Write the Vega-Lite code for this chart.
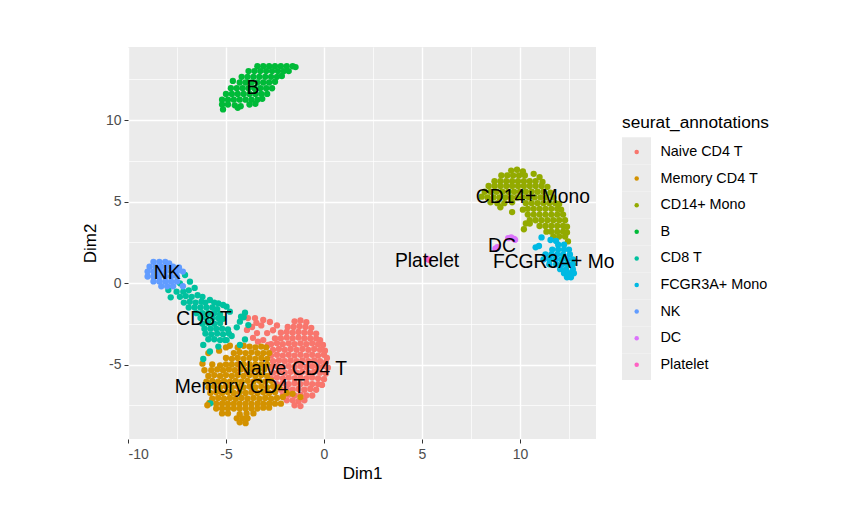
{"$schema":"https://vega.github.io/schema/vega-lite/v6.json","width":468,"height":392,"autosize":{"type":"none"},"padding":{"left":128,"top":47,"right":265,"bottom":83},"background":"white","view":{"fill":"#EBEBEB","stroke":null},"config":{"font":"Liberation Sans"},
"datasets":{"types":[{"c":"Naive CD4 T"},{"c":"Memory CD4 T"},{"c":"CD14+ Mono"},{"c":"B"},{"c":"CD8 T"},{"c":"FCGR3A+ Mono"},{"c":"NK"},{"c":"DC"},{"c":"Platelet"}],
"labels":[{"x":-3.62,"y":11.96,"t":"B"},{"x":-8.0,"y":0.6,"t":"NK"},{"x":-6.12,"y":-2.2,"t":"CD8 T"},{"x":-1.63,"y":-5.28,"t":"Naive CD4 T"},{"x":-4.29,"y":-6.38,"t":"Memory CD4 T"},{"x":10.66,"y":5.28,"t":"CD14+ Mono"},{"x":9.08,"y":2.27,"t":"DC"},{"x":12.27,"y":1.29,"t":"FCGR3A+ Mono"},{"x":5.26,"y":1.35,"t":"Platelet"}],
"cells":[
{"x":-1.5,"y":-2.35,"c":"Naive CD4 T"},{"x":-1.2,"y":-2.3,"c":"Naive CD4 T"},{"x":-0.9,"y":-2.4,"c":"Naive CD4 T"},
{"x":-1.85,"y":-2.7,"c":"Naive CD4 T"},{"x":-1.55,"y":-2.7,"c":"Naive CD4 T"},{"x":-1.25,"y":-2.65,"c":"Naive CD4 T"},{"x":-0.95,"y":-2.7,"c":"Naive CD4 T"},{"x":-0.65,"y":-2.75,"c":"Naive CD4 T"},
{"x":-2.2,"y":-3.05,"c":"Naive CD4 T"},{"x":-1.9,"y":-3.0,"c":"Naive CD4 T"},{"x":-1.6,"y":-3.05,"c":"Naive CD4 T"},{"x":-1.3,"y":-3.0,"c":"Naive CD4 T"},{"x":-1.0,"y":-3.05,"c":"Naive CD4 T"},{"x":-0.7,"y":-3.05,"c":"Naive CD4 T"},{"x":-0.4,"y":-3.1,"c":"Naive CD4 T"},
{"x":-2.5,"y":-3.4,"c":"Naive CD4 T"},{"x":-2.2,"y":-3.4,"c":"Naive CD4 T"},{"x":-1.9,"y":-3.35,"c":"Naive CD4 T"},{"x":-1.6,"y":-3.4,"c":"Naive CD4 T"},{"x":-1.3,"y":-3.35,"c":"Naive CD4 T"},{"x":-1.0,"y":-3.4,"c":"Naive CD4 T"},{"x":-0.7,"y":-3.4,"c":"Naive CD4 T"},{"x":-0.4,"y":-3.4,"c":"Naive CD4 T"},{"x":-0.2,"y":-3.5,"c":"Naive CD4 T"},
{"x":-2.7,"y":-3.75,"c":"Naive CD4 T"},{"x":-2.4,"y":-3.7,"c":"Naive CD4 T"},{"x":-2.1,"y":-3.75,"c":"Naive CD4 T"},{"x":-1.8,"y":-3.7,"c":"Naive CD4 T"},{"x":-1.5,"y":-3.75,"c":"Naive CD4 T"},{"x":-1.2,"y":-3.7,"c":"Naive CD4 T"},{"x":-0.9,"y":-3.75,"c":"Naive CD4 T"},{"x":-0.6,"y":-3.7,"c":"Naive CD4 T"},{"x":-0.3,"y":-3.75,"c":"Naive CD4 T"},{"x":-0.05,"y":-3.8,"c":"Naive CD4 T"},
{"x":-2.6,"y":-4.1,"c":"Naive CD4 T"},{"x":-2.3,"y":-4.05,"c":"Naive CD4 T"},{"x":-2.0,"y":-4.1,"c":"Naive CD4 T"},{"x":-1.7,"y":-4.05,"c":"Naive CD4 T"},{"x":-1.4,"y":-4.1,"c":"Naive CD4 T"},{"x":-1.1,"y":-4.05,"c":"Naive CD4 T"},{"x":-0.8,"y":-4.1,"c":"Naive CD4 T"},{"x":-0.5,"y":-4.05,"c":"Naive CD4 T"},{"x":-0.2,"y":-4.1,"c":"Naive CD4 T"},{"x":0.05,"y":-4.15,"c":"Naive CD4 T"},
{"x":-2.7,"y":-4.45,"c":"Naive CD4 T"},{"x":-2.4,"y":-4.4,"c":"Naive CD4 T"},{"x":-2.1,"y":-4.45,"c":"Naive CD4 T"},{"x":-1.8,"y":-4.4,"c":"Naive CD4 T"},{"x":-1.5,"y":-4.45,"c":"Naive CD4 T"},{"x":-1.2,"y":-4.4,"c":"Naive CD4 T"},{"x":-0.9,"y":-4.45,"c":"Naive CD4 T"},{"x":-0.6,"y":-4.4,"c":"Naive CD4 T"},{"x":-0.3,"y":-4.45,"c":"Naive CD4 T"},{"x":0.0,"y":-4.4,"c":"Naive CD4 T"},{"x":0.15,"y":-4.6,"c":"Naive CD4 T"},
{"x":-2.6,"y":-4.8,"c":"Naive CD4 T"},{"x":-2.3,"y":-4.75,"c":"Naive CD4 T"},{"x":-2.0,"y":-4.8,"c":"Naive CD4 T"},{"x":-1.7,"y":-4.75,"c":"Naive CD4 T"},{"x":-1.4,"y":-4.8,"c":"Naive CD4 T"},{"x":-1.1,"y":-4.75,"c":"Naive CD4 T"},{"x":-0.8,"y":-4.8,"c":"Naive CD4 T"},{"x":-0.5,"y":-4.75,"c":"Naive CD4 T"},{"x":-0.2,"y":-4.8,"c":"Naive CD4 T"},{"x":0.1,"y":-4.85,"c":"Naive CD4 T"},
{"x":-2.7,"y":-5.15,"c":"Naive CD4 T"},{"x":-2.4,"y":-5.1,"c":"Naive CD4 T"},{"x":-2.1,"y":-5.15,"c":"Naive CD4 T"},{"x":-1.8,"y":-5.1,"c":"Naive CD4 T"},{"x":-1.5,"y":-5.15,"c":"Naive CD4 T"},{"x":-1.2,"y":-5.1,"c":"Naive CD4 T"},{"x":-0.9,"y":-5.15,"c":"Naive CD4 T"},{"x":-0.6,"y":-5.1,"c":"Naive CD4 T"},{"x":-0.3,"y":-5.15,"c":"Naive CD4 T"},{"x":0.0,"y":-5.1,"c":"Naive CD4 T"},{"x":0.2,"y":-5.2,"c":"Naive CD4 T"},
{"x":-2.6,"y":-5.5,"c":"Naive CD4 T"},{"x":-2.3,"y":-5.45,"c":"Naive CD4 T"},{"x":-2.0,"y":-5.5,"c":"Naive CD4 T"},{"x":-1.7,"y":-5.45,"c":"Naive CD4 T"},{"x":-1.4,"y":-5.5,"c":"Naive CD4 T"},{"x":-1.1,"y":-5.45,"c":"Naive CD4 T"},{"x":-0.8,"y":-5.5,"c":"Naive CD4 T"},{"x":-0.5,"y":-5.45,"c":"Naive CD4 T"},{"x":-0.2,"y":-5.5,"c":"Naive CD4 T"},{"x":0.1,"y":-5.55,"c":"Naive CD4 T"},
{"x":-2.7,"y":-5.85,"c":"Naive CD4 T"},{"x":-2.4,"y":-5.8,"c":"Naive CD4 T"},{"x":-2.1,"y":-5.85,"c":"Naive CD4 T"},{"x":-1.8,"y":-5.8,"c":"Naive CD4 T"},{"x":-1.5,"y":-5.85,"c":"Naive CD4 T"},{"x":-1.2,"y":-5.8,"c":"Naive CD4 T"},{"x":-0.9,"y":-5.85,"c":"Naive CD4 T"},{"x":-0.6,"y":-5.8,"c":"Naive CD4 T"},{"x":-0.3,"y":-5.85,"c":"Naive CD4 T"},{"x":0.0,"y":-5.9,"c":"Naive CD4 T"},
{"x":-2.4,"y":-6.2,"c":"Naive CD4 T"},{"x":-2.1,"y":-6.15,"c":"Naive CD4 T"},{"x":-1.8,"y":-6.2,"c":"Naive CD4 T"},{"x":-1.5,"y":-6.15,"c":"Naive CD4 T"},{"x":-1.2,"y":-6.2,"c":"Naive CD4 T"},{"x":-0.9,"y":-6.15,"c":"Naive CD4 T"},{"x":-0.6,"y":-6.2,"c":"Naive CD4 T"},{"x":-0.3,"y":-6.2,"c":"Naive CD4 T"},{"x":-0.1,"y":-6.25,"c":"Naive CD4 T"},
{"x":-2.2,"y":-6.55,"c":"Naive CD4 T"},{"x":-1.9,"y":-6.5,"c":"Naive CD4 T"},{"x":-1.6,"y":-6.55,"c":"Naive CD4 T"},{"x":-1.3,"y":-6.5,"c":"Naive CD4 T"},{"x":-1.0,"y":-6.55,"c":"Naive CD4 T"},{"x":-0.7,"y":-6.5,"c":"Naive CD4 T"},{"x":-0.4,"y":-6.55,"c":"Naive CD4 T"},
{"x":-2.1,"y":-6.9,"c":"Naive CD4 T"},{"x":-1.8,"y":-6.85,"c":"Naive CD4 T"},{"x":-1.5,"y":-6.9,"c":"Naive CD4 T"},{"x":-1.2,"y":-6.85,"c":"Naive CD4 T"},{"x":-0.9,"y":-6.9,"c":"Naive CD4 T"},{"x":-0.6,"y":-6.9,"c":"Naive CD4 T"},
{"x":-1.9,"y":-7.2,"c":"Naive CD4 T"},{"x":-1.6,"y":-7.2,"c":"Naive CD4 T"},{"x":-1.3,"y":-7.25,"c":"Naive CD4 T"},{"x":-1.0,"y":-7.2,"c":"Naive CD4 T"},{"x":-1.5,"y":-7.5,"c":"Naive CD4 T"},{"x":-1.2,"y":-7.55,"c":"Naive CD4 T"},
{"x":-3.88,"y":-2.15,"c":"Naive CD4 T"},{"x":-3.52,"y":-2.15,"c":"Naive CD4 T"},{"x":-3.1,"y":-2.27,"c":"Naive CD4 T"},{"x":-2.76,"y":-2.39,"c":"Naive CD4 T"},{"x":-3.67,"y":-2.7,"c":"Naive CD4 T"},{"x":-3.93,"y":-2.88,"c":"Naive CD4 T"},{"x":-3.42,"y":-3.07,"c":"Naive CD4 T"},{"x":-3.62,"y":-3.37,"c":"Naive CD4 T"},{"x":-3.37,"y":-3.6,"c":"Naive CD4 T"},{"x":-3.1,"y":-3.5,"c":"Naive CD4 T"},{"x":-2.85,"y":-3.8,"c":"Naive CD4 T"},{"x":-2.9,"y":-3.07,"c":"Naive CD4 T"},{"x":-2.6,"y":-2.9,"c":"Naive CD4 T"},{"x":-3.2,"y":-2.6,"c":"Naive CD4 T"},{"x":-2.4,"y":-2.6,"c":"Naive CD4 T"},{"x":-3.45,"y":-2.45,"c":"Naive CD4 T"},
{"x":-4.4,"y":-3.95,"c":"Memory CD4 T"},{"x":-4.1,"y":-3.85,"c":"Memory CD4 T"},{"x":-3.8,"y":-3.9,"c":"Memory CD4 T"},{"x":-3.5,"y":-3.95,"c":"Memory CD4 T"},{"x":-3.2,"y":-3.9,"c":"Memory CD4 T"},{"x":-2.95,"y":-3.95,"c":"Memory CD4 T"},
{"x":-5.0,"y":-3.95,"c":"Memory CD4 T"},{"x":-4.8,"y":-3.85,"c":"Memory CD4 T"},{"x":-5.35,"y":-4.15,"c":"Memory CD4 T"},{"x":-5.9,"y":-4.3,"c":"Memory CD4 T"},{"x":-4.6,"y":-4.3,"c":"Memory CD4 T"},{"x":-4.3,"y":-4.25,"c":"Memory CD4 T"},{"x":-4.0,"y":-4.3,"c":"Memory CD4 T"},{"x":-3.7,"y":-4.25,"c":"Memory CD4 T"},{"x":-3.4,"y":-4.3,"c":"Memory CD4 T"},{"x":-3.1,"y":-4.3,"c":"Memory CD4 T"},{"x":-2.8,"y":-4.3,"c":"Memory CD4 T"},
{"x":-5.0,"y":-4.6,"c":"Memory CD4 T"},{"x":-4.7,"y":-4.65,"c":"Memory CD4 T"},{"x":-4.4,"y":-4.6,"c":"Memory CD4 T"},{"x":-4.1,"y":-4.65,"c":"Memory CD4 T"},{"x":-3.8,"y":-4.6,"c":"Memory CD4 T"},{"x":-3.5,"y":-4.65,"c":"Memory CD4 T"},{"x":-3.2,"y":-4.6,"c":"Memory CD4 T"},{"x":-2.9,"y":-4.65,"c":"Memory CD4 T"},{"x":-6.2,"y":-4.95,"c":"Memory CD4 T"},
{"x":-5.7,"y":-5.0,"c":"Memory CD4 T"},{"x":-5.3,"y":-5.05,"c":"Memory CD4 T"},{"x":-5.0,"y":-5.0,"c":"Memory CD4 T"},{"x":-4.7,"y":-5.0,"c":"Memory CD4 T"},{"x":-4.4,"y":-5.0,"c":"Memory CD4 T"},{"x":-4.1,"y":-5.0,"c":"Memory CD4 T"},{"x":-3.8,"y":-5.0,"c":"Memory CD4 T"},{"x":-3.5,"y":-5.0,"c":"Memory CD4 T"},{"x":-3.2,"y":-5.0,"c":"Memory CD4 T"},{"x":-2.9,"y":-5.0,"c":"Memory CD4 T"},
{"x":-6.1,"y":-5.35,"c":"Memory CD4 T"},{"x":-5.75,"y":-5.35,"c":"Memory CD4 T"},{"x":-5.45,"y":-5.3,"c":"Memory CD4 T"},{"x":-5.15,"y":-5.35,"c":"Memory CD4 T"},{"x":-4.85,"y":-5.3,"c":"Memory CD4 T"},{"x":-4.55,"y":-5.35,"c":"Memory CD4 T"},{"x":-4.25,"y":-5.3,"c":"Memory CD4 T"},{"x":-3.95,"y":-5.35,"c":"Memory CD4 T"},{"x":-3.65,"y":-5.3,"c":"Memory CD4 T"},{"x":-3.35,"y":-5.35,"c":"Memory CD4 T"},{"x":-3.05,"y":-5.3,"c":"Memory CD4 T"},
{"x":-5.9,"y":-5.7,"c":"Memory CD4 T"},{"x":-5.6,"y":-5.65,"c":"Memory CD4 T"},{"x":-5.3,"y":-5.7,"c":"Memory CD4 T"},{"x":-5.0,"y":-5.65,"c":"Memory CD4 T"},{"x":-4.7,"y":-5.7,"c":"Memory CD4 T"},{"x":-4.4,"y":-5.65,"c":"Memory CD4 T"},{"x":-4.1,"y":-5.7,"c":"Memory CD4 T"},{"x":-3.8,"y":-5.65,"c":"Memory CD4 T"},{"x":-3.5,"y":-5.7,"c":"Memory CD4 T"},{"x":-3.2,"y":-5.65,"c":"Memory CD4 T"},{"x":-2.9,"y":-5.7,"c":"Memory CD4 T"},
{"x":-6.0,"y":-6.05,"c":"Memory CD4 T"},{"x":-5.7,"y":-6.0,"c":"Memory CD4 T"},{"x":-5.4,"y":-6.05,"c":"Memory CD4 T"},{"x":-5.1,"y":-6.0,"c":"Memory CD4 T"},{"x":-4.8,"y":-6.05,"c":"Memory CD4 T"},{"x":-4.5,"y":-6.0,"c":"Memory CD4 T"},{"x":-4.2,"y":-6.05,"c":"Memory CD4 T"},{"x":-3.9,"y":-6.0,"c":"Memory CD4 T"},{"x":-3.6,"y":-6.05,"c":"Memory CD4 T"},{"x":-3.3,"y":-6.0,"c":"Memory CD4 T"},{"x":-3.0,"y":-6.05,"c":"Memory CD4 T"},{"x":-2.7,"y":-6.0,"c":"Memory CD4 T"},
{"x":-5.9,"y":-6.4,"c":"Memory CD4 T"},{"x":-5.6,"y":-6.35,"c":"Memory CD4 T"},{"x":-5.3,"y":-6.4,"c":"Memory CD4 T"},{"x":-5.0,"y":-6.35,"c":"Memory CD4 T"},{"x":-4.7,"y":-6.4,"c":"Memory CD4 T"},{"x":-4.4,"y":-6.35,"c":"Memory CD4 T"},{"x":-4.1,"y":-6.4,"c":"Memory CD4 T"},{"x":-3.8,"y":-6.35,"c":"Memory CD4 T"},{"x":-3.5,"y":-6.4,"c":"Memory CD4 T"},{"x":-3.2,"y":-6.35,"c":"Memory CD4 T"},{"x":-2.9,"y":-6.4,"c":"Memory CD4 T"},{"x":-2.6,"y":-6.35,"c":"Memory CD4 T"},{"x":-2.3,"y":-6.4,"c":"Memory CD4 T"},
{"x":-5.8,"y":-6.75,"c":"Memory CD4 T"},{"x":-5.5,"y":-6.7,"c":"Memory CD4 T"},{"x":-5.2,"y":-6.75,"c":"Memory CD4 T"},{"x":-4.9,"y":-6.7,"c":"Memory CD4 T"},{"x":-4.6,"y":-6.75,"c":"Memory CD4 T"},{"x":-4.3,"y":-6.7,"c":"Memory CD4 T"},{"x":-4.0,"y":-6.75,"c":"Memory CD4 T"},{"x":-3.7,"y":-6.7,"c":"Memory CD4 T"},{"x":-3.4,"y":-6.75,"c":"Memory CD4 T"},{"x":-3.1,"y":-6.7,"c":"Memory CD4 T"},{"x":-2.8,"y":-6.75,"c":"Memory CD4 T"},{"x":-2.5,"y":-6.7,"c":"Memory CD4 T"},{"x":-1.9,"y":-6.75,"c":"Memory CD4 T"},{"x":-1.6,"y":-6.8,"c":"Memory CD4 T"},
{"x":-5.7,"y":-7.1,"c":"Memory CD4 T"},{"x":-5.4,"y":-7.05,"c":"Memory CD4 T"},{"x":-5.1,"y":-7.1,"c":"Memory CD4 T"},{"x":-4.8,"y":-7.05,"c":"Memory CD4 T"},{"x":-4.5,"y":-7.1,"c":"Memory CD4 T"},{"x":-4.2,"y":-7.05,"c":"Memory CD4 T"},{"x":-3.9,"y":-7.1,"c":"Memory CD4 T"},{"x":-3.6,"y":-7.05,"c":"Memory CD4 T"},{"x":-3.3,"y":-7.1,"c":"Memory CD4 T"},{"x":-3.0,"y":-7.05,"c":"Memory CD4 T"},{"x":-2.7,"y":-7.1,"c":"Memory CD4 T"},{"x":-2.4,"y":-7.05,"c":"Memory CD4 T"},{"x":-2.1,"y":-7.0,"c":"Memory CD4 T"},{"x":-1.2,"y":-7.0,"c":"Memory CD4 T"},
{"x":-5.85,"y":-7.35,"c":"Memory CD4 T"},{"x":-5.5,"y":-7.4,"c":"Memory CD4 T"},{"x":-5.2,"y":-7.4,"c":"Memory CD4 T"},{"x":-4.9,"y":-7.4,"c":"Memory CD4 T"},{"x":-4.6,"y":-7.4,"c":"Memory CD4 T"},{"x":-4.3,"y":-7.4,"c":"Memory CD4 T"},{"x":-4.0,"y":-7.4,"c":"Memory CD4 T"},{"x":-3.7,"y":-7.4,"c":"Memory CD4 T"},{"x":-3.4,"y":-7.4,"c":"Memory CD4 T"},{"x":-3.1,"y":-7.4,"c":"Memory CD4 T"},{"x":-2.8,"y":-7.4,"c":"Memory CD4 T"},{"x":-2.5,"y":-7.4,"c":"Memory CD4 T"},{"x":-2.2,"y":-7.4,"c":"Memory CD4 T"},
{"x":-5.5,"y":-7.7,"c":"Memory CD4 T"},{"x":-5.2,"y":-7.7,"c":"Memory CD4 T"},{"x":-4.9,"y":-7.7,"c":"Memory CD4 T"},{"x":-4.6,"y":-7.7,"c":"Memory CD4 T"},{"x":-4.3,"y":-7.7,"c":"Memory CD4 T"},{"x":-4.0,"y":-7.7,"c":"Memory CD4 T"},{"x":-3.7,"y":-7.7,"c":"Memory CD4 T"},{"x":-3.4,"y":-7.7,"c":"Memory CD4 T"},{"x":-3.1,"y":-7.65,"c":"Memory CD4 T"},{"x":-2.8,"y":-7.65,"c":"Memory CD4 T"},
{"x":-5.2,"y":-8.0,"c":"Memory CD4 T"},{"x":-4.9,"y":-8.0,"c":"Memory CD4 T"},{"x":-4.3,"y":-8.05,"c":"Memory CD4 T"},{"x":-3.95,"y":-8.0,"c":"Memory CD4 T"},{"x":-3.6,"y":-8.0,"c":"Memory CD4 T"},{"x":-4.45,"y":-8.3,"c":"Memory CD4 T"},{"x":-4.15,"y":-8.3,"c":"Memory CD4 T"},{"x":-3.9,"y":-8.3,"c":"Memory CD4 T"},{"x":-4.3,"y":-8.55,"c":"Memory CD4 T"},{"x":-4.0,"y":-8.6,"c":"Memory CD4 T"},
{"x":-5.8,"y":-7.38,"c":"CD8 T"},{"x":-5.95,"y":-7.5,"c":"Memory CD4 T"},
{"x":-7.82,"y":-0.88,"c":"CD8 T"},{"x":-7.94,"y":-0.43,"c":"CD8 T"},{"x":-7.52,"y":-0.53,"c":"CD8 T"},{"x":-7.18,"y":-0.53,"c":"CD8 T"},{"x":-6.84,"y":0.08,"c":"CD8 T"},{"x":-7.35,"y":-0.02,"c":"CD8 T"},{"x":-7.09,"y":0.49,"c":"CD8 T"},{"x":-6.9,"y":-0.45,"c":"CD8 T"},{"x":-6.6,"y":-0.3,"c":"CD8 T"},{"x":-7.35,"y":-0.85,"c":"CD8 T"},{"x":-7.05,"y":-0.8,"c":"CD8 T"},{"x":-6.75,"y":-0.85,"c":"CD8 T"},{"x":-6.45,"y":-0.75,"c":"CD8 T"},{"x":-6.2,"y":-0.85,"c":"CD8 T"},
{"x":-7.15,"y":-1.2,"c":"CD8 T"},{"x":-6.85,"y":-1.15,"c":"CD8 T"},{"x":-6.55,"y":-1.2,"c":"CD8 T"},{"x":-6.25,"y":-1.15,"c":"CD8 T"},{"x":-6.05,"y":-1.2,"c":"CD8 T"},{"x":-5.82,"y":-1.04,"c":"CD8 T"},{"x":-5.39,"y":-1.25,"c":"CD8 T"},{"x":-4.97,"y":-1.45,"c":"CD8 T"},{"x":-4.8,"y":-1.76,"c":"CD8 T"},{"x":-5.6,"y":-1.2,"c":"CD8 T"},{"x":-5.15,"y":-1.35,"c":"CD8 T"},
{"x":-6.9,"y":-1.5,"c":"CD8 T"},{"x":-6.6,"y":-1.5,"c":"CD8 T"},{"x":-6.3,"y":-1.5,"c":"CD8 T"},{"x":-6.0,"y":-1.5,"c":"CD8 T"},{"x":-5.7,"y":-1.5,"c":"CD8 T"},{"x":-5.45,"y":-1.6,"c":"CD8 T"},
{"x":-6.5,"y":-1.85,"c":"CD8 T"},{"x":-6.2,"y":-1.85,"c":"CD8 T"},{"x":-5.9,"y":-1.85,"c":"CD8 T"},{"x":-5.6,"y":-1.85,"c":"CD8 T"},{"x":-5.3,"y":-1.9,"c":"CD8 T"},
{"x":-6.3,"y":-2.15,"c":"CD8 T"},{"x":-6.0,"y":-2.15,"c":"CD8 T"},{"x":-5.7,"y":-2.15,"c":"CD8 T"},{"x":-5.4,"y":-2.15,"c":"CD8 T"},{"x":-5.15,"y":-2.2,"c":"CD8 T"},
{"x":-6.2,"y":-2.5,"c":"CD8 T"},{"x":-5.9,"y":-2.45,"c":"CD8 T"},{"x":-5.6,"y":-2.5,"c":"CD8 T"},{"x":-5.3,"y":-2.45,"c":"CD8 T"},
{"x":-6.1,"y":-2.8,"c":"CD8 T"},{"x":-5.8,"y":-2.8,"c":"CD8 T"},{"x":-5.5,"y":-2.8,"c":"CD8 T"},{"x":-5.2,"y":-2.8,"c":"CD8 T"},{"x":-4.9,"y":-2.85,"c":"CD8 T"},
{"x":-6.05,"y":-3.1,"c":"CD8 T"},{"x":-5.75,"y":-3.15,"c":"CD8 T"},{"x":-5.45,"y":-3.1,"c":"CD8 T"},{"x":-5.15,"y":-3.15,"c":"CD8 T"},{"x":-4.85,"y":-3.1,"c":"CD8 T"},
{"x":-5.9,"y":-3.45,"c":"CD8 T"},{"x":-5.6,"y":-3.45,"c":"CD8 T"},{"x":-5.3,"y":-3.5,"c":"CD8 T"},{"x":-5.05,"y":-3.5,"c":"CD8 T"},
{"x":-4.03,"y":-1.82,"c":"CD8 T"},{"x":-4.23,"y":-2.07,"c":"CD8 T"},{"x":-3.86,"y":-2.58,"c":"CD8 T"},{"x":-4.45,"y":-2.72,"c":"CD8 T"},{"x":-4.29,"y":-2.37,"c":"CD8 T"},{"x":-4.71,"y":-3.25,"c":"CD8 T"},{"x":-4.03,"y":-3.46,"c":"CD8 T"},{"x":-4.29,"y":-3.8,"c":"CD8 T"},{"x":-4.97,"y":-3.5,"c":"CD8 T"},{"x":-5.39,"y":-3.9,"c":"CD8 T"},{"x":-5.82,"y":-4.2,"c":"CD8 T"},{"x":-6.16,"y":-3.8,"c":"CD8 T"},{"x":-6.16,"y":-4.66,"c":"CD8 T"},{"x":-4.1,"y":-2.1,"c":"CD8 T"},
{"x":-8.7,"y":1.3,"c":"NK"},{"x":-8.4,"y":1.3,"c":"NK"},{"x":-8.1,"y":1.3,"c":"NK"},{"x":-7.9,"y":1.2,"c":"NK"},
{"x":-8.9,"y":1.0,"c":"NK"},{"x":-8.6,"y":1.0,"c":"NK"},{"x":-8.3,"y":1.0,"c":"NK"},{"x":-8.0,"y":1.0,"c":"NK"},{"x":-7.7,"y":1.0,"c":"NK"},{"x":-7.4,"y":0.95,"c":"NK"},
{"x":-9.0,"y":0.7,"c":"NK"},{"x":-8.7,"y":0.7,"c":"NK"},{"x":-8.4,"y":0.7,"c":"NK"},{"x":-8.1,"y":0.7,"c":"NK"},{"x":-7.8,"y":0.7,"c":"NK"},{"x":-7.5,"y":0.7,"c":"NK"},{"x":-7.2,"y":0.7,"c":"NK"},
{"x":-9.0,"y":0.4,"c":"NK"},{"x":-8.7,"y":0.4,"c":"NK"},{"x":-8.4,"y":0.4,"c":"NK"},{"x":-8.1,"y":0.4,"c":"NK"},{"x":-7.8,"y":0.4,"c":"NK"},{"x":-7.5,"y":0.4,"c":"NK"},
{"x":-8.7,"y":0.1,"c":"NK"},{"x":-8.4,"y":0.1,"c":"NK"},{"x":-8.1,"y":0.1,"c":"NK"},{"x":-7.8,"y":0.1,"c":"NK"},{"x":-7.5,"y":0.1,"c":"NK"},{"x":-8.3,"y":-0.2,"c":"NK"},{"x":-8.0,"y":-0.2,"c":"NK"},{"x":-7.7,"y":-0.2,"c":"NK"},{"x":-7.2,"y":-0.2,"c":"NK"},
{"x":-3.4,"y":13.3,"c":"B"},{"x":-3.1,"y":13.3,"c":"B"},{"x":-2.8,"y":13.3,"c":"B"},{"x":-2.5,"y":13.3,"c":"B"},{"x":-2.2,"y":13.3,"c":"B"},{"x":-1.9,"y":13.3,"c":"B"},{"x":-1.6,"y":13.3,"c":"B"},{"x":-1.45,"y":13.25,"c":"B"},
{"x":-3.85,"y":13.0,"c":"B"},{"x":-3.55,"y":13.0,"c":"B"},{"x":-3.25,"y":13.0,"c":"B"},{"x":-2.95,"y":13.0,"c":"B"},{"x":-2.65,"y":13.0,"c":"B"},{"x":-2.35,"y":13.0,"c":"B"},{"x":-2.05,"y":13.0,"c":"B"},{"x":-1.8,"y":13.0,"c":"B"},
{"x":-4.2,"y":12.65,"c":"B"},{"x":-3.9,"y":12.65,"c":"B"},{"x":-3.6,"y":12.65,"c":"B"},{"x":-3.3,"y":12.65,"c":"B"},{"x":-3.0,"y":12.65,"c":"B"},{"x":-2.7,"y":12.65,"c":"B"},{"x":-2.4,"y":12.65,"c":"B"},{"x":-2.15,"y":12.7,"c":"B"},
{"x":-4.65,"y":12.4,"c":"B"},{"x":-4.3,"y":12.3,"c":"B"},{"x":-4.0,"y":12.3,"c":"B"},{"x":-3.7,"y":12.3,"c":"B"},{"x":-3.4,"y":12.3,"c":"B"},{"x":-3.1,"y":12.3,"c":"B"},{"x":-2.8,"y":12.3,"c":"B"},{"x":-2.5,"y":12.35,"c":"B"},
{"x":-4.75,"y":11.95,"c":"B"},{"x":-4.45,"y":11.95,"c":"B"},{"x":-4.15,"y":11.95,"c":"B"},{"x":-3.85,"y":11.95,"c":"B"},{"x":-3.55,"y":11.95,"c":"B"},{"x":-3.25,"y":11.95,"c":"B"},{"x":-2.95,"y":11.95,"c":"B"},{"x":-2.65,"y":11.95,"c":"B"},
{"x":-5.0,"y":11.6,"c":"B"},{"x":-4.7,"y":11.6,"c":"B"},{"x":-4.4,"y":11.6,"c":"B"},{"x":-4.1,"y":11.6,"c":"B"},{"x":-3.8,"y":11.6,"c":"B"},{"x":-3.5,"y":11.6,"c":"B"},{"x":-3.2,"y":11.6,"c":"B"},{"x":-2.9,"y":11.6,"c":"B"},
{"x":-5.2,"y":11.25,"c":"B"},{"x":-4.9,"y":11.25,"c":"B"},{"x":-4.6,"y":11.25,"c":"B"},{"x":-4.3,"y":11.25,"c":"B"},{"x":-4.0,"y":11.25,"c":"B"},{"x":-3.7,"y":11.25,"c":"B"},{"x":-3.4,"y":11.25,"c":"B"},{"x":-3.15,"y":11.3,"c":"B"},
{"x":-5.2,"y":10.95,"c":"B"},{"x":-4.9,"y":10.95,"c":"B"},{"x":-4.55,"y":10.9,"c":"B"},{"x":-4.25,"y":10.85,"c":"B"},{"x":-3.8,"y":10.95,"c":"B"},{"x":-3.5,"y":11.0,"c":"B"},{"x":-5.15,"y":10.65,"c":"B"},{"x":-4.4,"y":10.75,"c":"B"},
{"x":9.55,"y":6.9,"c":"CD14+ Mono"},{"x":9.85,"y":6.95,"c":"CD14+ Mono"},{"x":10.15,"y":6.85,"c":"CD14+ Mono"},
{"x":9.05,"y":6.6,"c":"CD14+ Mono"},{"x":9.35,"y":6.6,"c":"CD14+ Mono"},{"x":9.65,"y":6.6,"c":"CD14+ Mono"},{"x":9.95,"y":6.6,"c":"CD14+ Mono"},{"x":10.25,"y":6.6,"c":"CD14+ Mono"},{"x":10.7,"y":6.7,"c":"CD14+ Mono"},{"x":11.0,"y":6.5,"c":"CD14+ Mono"},
{"x":8.7,"y":6.25,"c":"CD14+ Mono"},{"x":9.0,"y":6.25,"c":"CD14+ Mono"},{"x":9.3,"y":6.25,"c":"CD14+ Mono"},{"x":9.6,"y":6.25,"c":"CD14+ Mono"},{"x":9.9,"y":6.25,"c":"CD14+ Mono"},{"x":10.2,"y":6.25,"c":"CD14+ Mono"},{"x":10.5,"y":6.25,"c":"CD14+ Mono"},{"x":10.8,"y":6.25,"c":"CD14+ Mono"},{"x":11.15,"y":6.2,"c":"CD14+ Mono"},
{"x":8.4,"y":5.95,"c":"CD14+ Mono"},{"x":8.7,"y":5.95,"c":"CD14+ Mono"},{"x":9.0,"y":5.95,"c":"CD14+ Mono"},{"x":9.3,"y":5.95,"c":"CD14+ Mono"},{"x":9.6,"y":5.95,"c":"CD14+ Mono"},{"x":9.9,"y":5.95,"c":"CD14+ Mono"},{"x":10.2,"y":5.95,"c":"CD14+ Mono"},{"x":10.5,"y":5.95,"c":"CD14+ Mono"},{"x":10.8,"y":5.95,"c":"CD14+ Mono"},{"x":11.1,"y":5.95,"c":"CD14+ Mono"},{"x":11.4,"y":5.9,"c":"CD14+ Mono"},
{"x":8.2,"y":5.6,"c":"CD14+ Mono"},{"x":8.5,"y":5.6,"c":"CD14+ Mono"},{"x":8.8,"y":5.6,"c":"CD14+ Mono"},{"x":9.1,"y":5.6,"c":"CD14+ Mono"},{"x":9.4,"y":5.6,"c":"CD14+ Mono"},{"x":9.7,"y":5.6,"c":"CD14+ Mono"},{"x":10.0,"y":5.6,"c":"CD14+ Mono"},{"x":10.3,"y":5.6,"c":"CD14+ Mono"},{"x":10.6,"y":5.6,"c":"CD14+ Mono"},{"x":10.9,"y":5.6,"c":"CD14+ Mono"},{"x":11.2,"y":5.6,"c":"CD14+ Mono"},{"x":11.55,"y":5.55,"c":"CD14+ Mono"},
{"x":8.05,"y":5.3,"c":"CD14+ Mono"},{"x":8.35,"y":5.25,"c":"CD14+ Mono"},{"x":8.65,"y":5.25,"c":"CD14+ Mono"},{"x":8.95,"y":5.25,"c":"CD14+ Mono"},{"x":9.25,"y":5.25,"c":"CD14+ Mono"},{"x":9.55,"y":5.25,"c":"CD14+ Mono"},{"x":9.85,"y":5.25,"c":"CD14+ Mono"},{"x":10.15,"y":5.25,"c":"CD14+ Mono"},{"x":10.45,"y":5.25,"c":"CD14+ Mono"},{"x":10.75,"y":5.25,"c":"CD14+ Mono"},{"x":11.05,"y":5.25,"c":"CD14+ Mono"},{"x":11.35,"y":5.25,"c":"CD14+ Mono"},{"x":11.7,"y":5.25,"c":"CD14+ Mono"},
{"x":8.5,"y":4.95,"c":"CD14+ Mono"},{"x":8.85,"y":4.9,"c":"CD14+ Mono"},{"x":9.2,"y":4.9,"c":"CD14+ Mono"},{"x":9.6,"y":4.95,"c":"CD14+ Mono"},{"x":10.3,"y":4.9,"c":"CD14+ Mono"},{"x":10.6,"y":4.9,"c":"CD14+ Mono"},{"x":10.9,"y":4.9,"c":"CD14+ Mono"},{"x":11.2,"y":4.9,"c":"CD14+ Mono"},{"x":11.5,"y":4.9,"c":"CD14+ Mono"},{"x":11.8,"y":4.9,"c":"CD14+ Mono"},{"x":12.0,"y":4.85,"c":"CD14+ Mono"},
{"x":9.0,"y":4.65,"c":"CD14+ Mono"},{"x":10.15,"y":4.5,"c":"CD14+ Mono"},{"x":10.4,"y":4.55,"c":"CD14+ Mono"},{"x":10.7,"y":4.55,"c":"CD14+ Mono"},{"x":11.0,"y":4.55,"c":"CD14+ Mono"},{"x":11.3,"y":4.55,"c":"CD14+ Mono"},{"x":11.6,"y":4.55,"c":"CD14+ Mono"},{"x":11.9,"y":4.55,"c":"CD14+ Mono"},{"x":12.1,"y":4.5,"c":"CD14+ Mono"},
{"x":9.6,"y":4.35,"c":"CD14+ Mono"},{"x":10.4,"y":4.2,"c":"CD14+ Mono"},{"x":10.7,"y":4.2,"c":"CD14+ Mono"},{"x":11.0,"y":4.2,"c":"CD14+ Mono"},{"x":11.3,"y":4.2,"c":"CD14+ Mono"},{"x":11.6,"y":4.2,"c":"CD14+ Mono"},{"x":11.9,"y":4.2,"c":"CD14+ Mono"},{"x":12.2,"y":4.2,"c":"CD14+ Mono"},
{"x":10.5,"y":3.85,"c":"CD14+ Mono"},{"x":10.8,"y":3.85,"c":"CD14+ Mono"},{"x":11.1,"y":3.85,"c":"CD14+ Mono"},{"x":11.4,"y":3.85,"c":"CD14+ Mono"},{"x":11.7,"y":3.85,"c":"CD14+ Mono"},{"x":12.0,"y":3.85,"c":"CD14+ Mono"},{"x":12.3,"y":3.85,"c":"CD14+ Mono"},
{"x":10.3,"y":3.65,"c":"CD14+ Mono"},{"x":10.5,"y":3.65,"c":"CD14+ Mono"},{"x":11.0,"y":3.5,"c":"CD14+ Mono"},{"x":11.3,"y":3.5,"c":"CD14+ Mono"},{"x":11.6,"y":3.5,"c":"CD14+ Mono"},{"x":11.9,"y":3.5,"c":"CD14+ Mono"},{"x":12.2,"y":3.5,"c":"CD14+ Mono"},{"x":12.4,"y":3.45,"c":"CD14+ Mono"},
{"x":10.2,"y":3.3,"c":"CD14+ Mono"},{"x":11.35,"y":3.15,"c":"CD14+ Mono"},{"x":11.6,"y":3.15,"c":"CD14+ Mono"},{"x":11.9,"y":3.15,"c":"CD14+ Mono"},{"x":12.2,"y":3.15,"c":"CD14+ Mono"},{"x":12.4,"y":3.1,"c":"CD14+ Mono"},
{"x":11.7,"y":2.85,"c":"CD14+ Mono"},{"x":12.0,"y":2.85,"c":"CD14+ Mono"},{"x":12.3,"y":2.85,"c":"CD14+ Mono"},{"x":12.45,"y":2.55,"c":"CD14+ Mono"},
{"x":11.1,"y":2.8,"c":"FCGR3A+ Mono"},{"x":11.56,"y":2.64,"c":"FCGR3A+ Mono"},{"x":11.84,"y":2.58,"c":"FCGR3A+ Mono"},{"x":10.8,"y":2.19,"c":"FCGR3A+ Mono"},{"x":10.97,"y":2.27,"c":"FCGR3A+ Mono"},
{"x":11.95,"y":2.35,"c":"FCGR3A+ Mono"},{"x":12.25,"y":2.35,"c":"FCGR3A+ Mono"},{"x":11.65,"y":2.05,"c":"FCGR3A+ Mono"},{"x":11.95,"y":2.05,"c":"FCGR3A+ Mono"},{"x":12.25,"y":2.05,"c":"FCGR3A+ Mono"},{"x":12.5,"y":2.05,"c":"FCGR3A+ Mono"},
{"x":11.3,"y":1.75,"c":"FCGR3A+ Mono"},{"x":11.6,"y":1.75,"c":"FCGR3A+ Mono"},{"x":11.9,"y":1.75,"c":"FCGR3A+ Mono"},{"x":12.2,"y":1.75,"c":"FCGR3A+ Mono"},{"x":12.55,"y":1.75,"c":"FCGR3A+ Mono"},
{"x":11.2,"y":1.45,"c":"FCGR3A+ Mono"},{"x":11.5,"y":1.45,"c":"FCGR3A+ Mono"},{"x":11.8,"y":1.45,"c":"FCGR3A+ Mono"},{"x":12.1,"y":1.45,"c":"FCGR3A+ Mono"},{"x":12.4,"y":1.45,"c":"FCGR3A+ Mono"},{"x":12.7,"y":1.45,"c":"FCGR3A+ Mono"},
{"x":11.5,"y":1.15,"c":"FCGR3A+ Mono"},{"x":11.85,"y":1.15,"c":"FCGR3A+ Mono"},{"x":12.15,"y":1.15,"c":"FCGR3A+ Mono"},{"x":12.45,"y":1.15,"c":"FCGR3A+ Mono"},{"x":12.7,"y":1.15,"c":"FCGR3A+ Mono"},
{"x":12.05,"y":0.85,"c":"FCGR3A+ Mono"},{"x":12.35,"y":0.85,"c":"FCGR3A+ Mono"},{"x":12.7,"y":0.85,"c":"FCGR3A+ Mono"},{"x":12.25,"y":0.6,"c":"FCGR3A+ Mono"},{"x":12.5,"y":0.6,"c":"FCGR3A+ Mono"},{"x":12.75,"y":0.6,"c":"FCGR3A+ Mono"},{"x":12.4,"y":0.35,"c":"FCGR3A+ Mono"},{"x":12.6,"y":0.35,"c":"FCGR3A+ Mono"},
{"x":9.4,"y":2.75,"c":"DC"},{"x":9.55,"y":2.8,"c":"DC"},{"x":9.7,"y":2.7,"c":"DC"},{"x":9.75,"y":2.65,"c":"DC"},{"x":8.85,"y":2.2,"c":"DC"},{"x":8.75,"y":2.1,"c":"DC"},
{"x":5.25,"y":1.5,"c":"Platelet"},{"x":5.35,"y":1.42,"c":"Platelet"}
]},
"layer":[
{"data":{"name":"types"},"mark":{"type":"point","filled":true,"size":0},"encoding":{"color":{"field":"c","type":"nominal","sort":null,"scale":{"domain":["Platelet","DC","NK","FCGR3A+ Mono","CD8 T","B","CD14+ Mono","Memory CD4 T","Naive CD4 T"],"range":["#EBEBEB"]},"legend":{"orient":"none","legendX":486,"legendY":59,"title":"seurat_annotations","titleFontSize":17.3,"titleColor":"black","titleFontWeight":"normal","titlePadding":6,"titleFont":"Liberation Sans","symbolType":"square","symbolSize":841,"symbolOpacity":1,"symbolStrokeWidth":0,"clipHeight":26.6,"rowPadding":0,"labelExpr":"''","labelFontSize":1,"padding":8,"fillColor":"white","zindex":0}}}},
{"data":{"name":"cells"},"mark":{"type":"point","filled":true,"opacity":1,"size":40},"encoding":{"x":{"field":"x","type":"quantitative","title":"Dim1","scale":{"domain":[-10,13.88],"nice":false,"zero":false},"axis":{"values":[-10,-7.5,-5,-2.5,0,2.5,5,7.5,10,12.5],"labelExpr":"datum.value % 5 == 0 ? '' + datum.value : ''","tickSize":{"condition":{"test":"datum.value % 5 == 0","value":4},"value":0},"tickColor":"#333333","tickWidth":1,"domain":false,"gridColor":"white","gridWidth":{"condition":{"test":"datum.value % 5 == 0","value":1.4},"value":0.7},"labelColor":"#4D4D4D","labelFontSize":14,"labelFont":"Liberation Sans","labelPadding":4,"titleFontSize":17,"titleFont":"Liberation Sans","titleFontWeight":"normal","titleColor":"black","titlePadding":4}},"y":{"field":"y","type":"quantitative","title":"Dim2","scale":{"domain":[-9.57,14.48],"nice":false,"zero":false},"axis":{"values":[-7.5,-5,-2.5,0,2.5,5,7.5,10,12.5],"labelExpr":"datum.value % 5 == 0 ? '' + datum.value : ''","tickSize":{"condition":{"test":"datum.value % 5 == 0","value":4},"value":0},"tickColor":"#333333","tickWidth":1,"domain":false,"gridColor":"white","gridWidth":{"condition":{"test":"datum.value % 5 == 0","value":1.4},"value":0.7},"labelColor":"#4D4D4D","labelFontSize":14,"labelFont":"Liberation Sans","labelPadding":3,"titleFontSize":17,"titleFont":"Liberation Sans","titleFontWeight":"normal","titleColor":"black","titlePadding":6}},"fill":{"field":"c","type":"nominal","sort":null,"scale":{"domain":["Naive CD4 T","Memory CD4 T","CD14+ Mono","B","CD8 T","FCGR3A+ Mono","NK","DC","Platelet"],"range":["#F8766D","#D39200","#93AA00","#00BA38","#00C19F","#00B9E3","#619CFF","#DB72FB","#FF61C3"]},"legend":{"orient":"none","legendX":501.5,"legendY":92,"title":null,"symbolType":"circle","symbolSize":20,"symbolOpacity":1,"symbolStrokeWidth":0,"clipHeight":26,"rowPadding":0.6,"labelFontSize":14.4,"labelColor":"black","labelFont":"Liberation Sans","labelOffset":16.5,"padding":0,"zindex":1}}}},
{"data":{"name":"labels"},"mark":{"type":"text","fontSize":19.3,"font":"Liberation Sans","color":"black","clip":false},"encoding":{"x":{"field":"x","type":"quantitative"},"y":{"field":"y","type":"quantitative"},"text":{"field":"t"}}}
]}
